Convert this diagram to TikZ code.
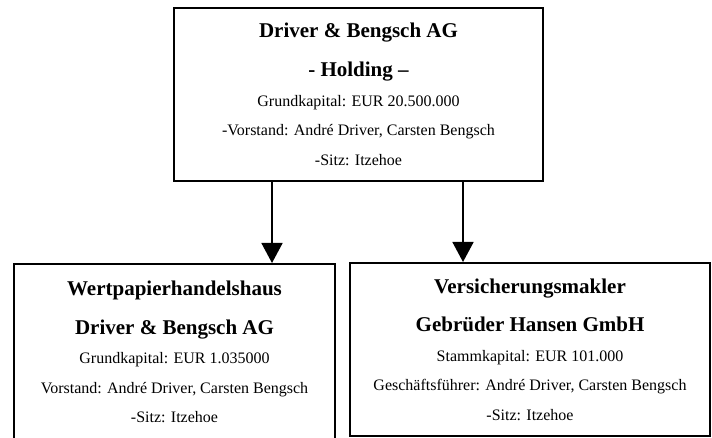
\documentclass[tikz,border=0pt]{standalone}
\usepackage{fontspec}
\setmainfont{Liberation Serif}
\usetikzlibrary{arrows.meta}
\definecolor{BoxLine}{HTML}{000000}
\tikzset{
    firma/.style={draw=BoxLine, line width=2pt, align=center, inner sep=0pt,
        font=\fontsize{16}{29.5}\selectfont},
    pfeil/.style={draw=BoxLine, line width=1.6pt, -{Triangle[width=21pt, length=20pt]}}
}
\newcommand{\firmentitel}[1]{{\fontsize{21}{29.5}\selectfont\bfseries #1}}

\begin{document}
\begin{tikzpicture}[x=1pt, y=-1pt]
    % =========================================
    % 1. Rahmen (page)
    % =========================================
    \useasboundingbox (0,0) rectangle (712,438);
    \clip (0,0) rectangle (712,438);

    % =========================================
    % 2. Holding
    % =========================================
    \node[firma, minimum width=369pt, minimum height=173pt] (holding) at (358.5,94.5)
        {\firmentitel{Driver \& Bengsch AG}\\[9.5pt]\firmentitel{- Holding --}\\
         Grundkapital: EUR 20.500.000\\
         -Vorstand: André Driver, Carsten Bengsch\\
         -Sitz: Itzehoe};

    % =========================================
    % 3. Tochtergesellschaften
    % =========================================
    \node[firma, minimum width=321pt, minimum height=176pt] (wph) at (174.5,352)
        {\firmentitel{Wertpapierhandelshaus}\\[9pt]\firmentitel{Driver \& Bengsch AG}\\
         Grundkapital: EUR 1.035000\\
         Vorstand: André Driver, Carsten Bengsch\\
         -Sitz: Itzehoe};

    \node[firma, minimum width=360pt, minimum height=173pt] (makler) at (530,349.5)
        {\firmentitel{Versicherungsmakler}\\[9pt]\firmentitel{Gebrüder Hansen GmbH}\\
         Stammkapital: EUR 101.000\\
         Geschäftsführer: André Driver, Carsten Bengsch\\
         -Sitz: Itzehoe};

    % =========================================
    % 4. Pfeile
    % =========================================
    \coordinate (links) at (272,0);
    \coordinate (rechts) at (463,0);
    \draw[pfeil] (holding.south -| links) -- (wph.north -| links);
    \draw[pfeil] (holding.south -| rechts) -- (makler.north -| rechts);

\end{tikzpicture}
\end{document}
